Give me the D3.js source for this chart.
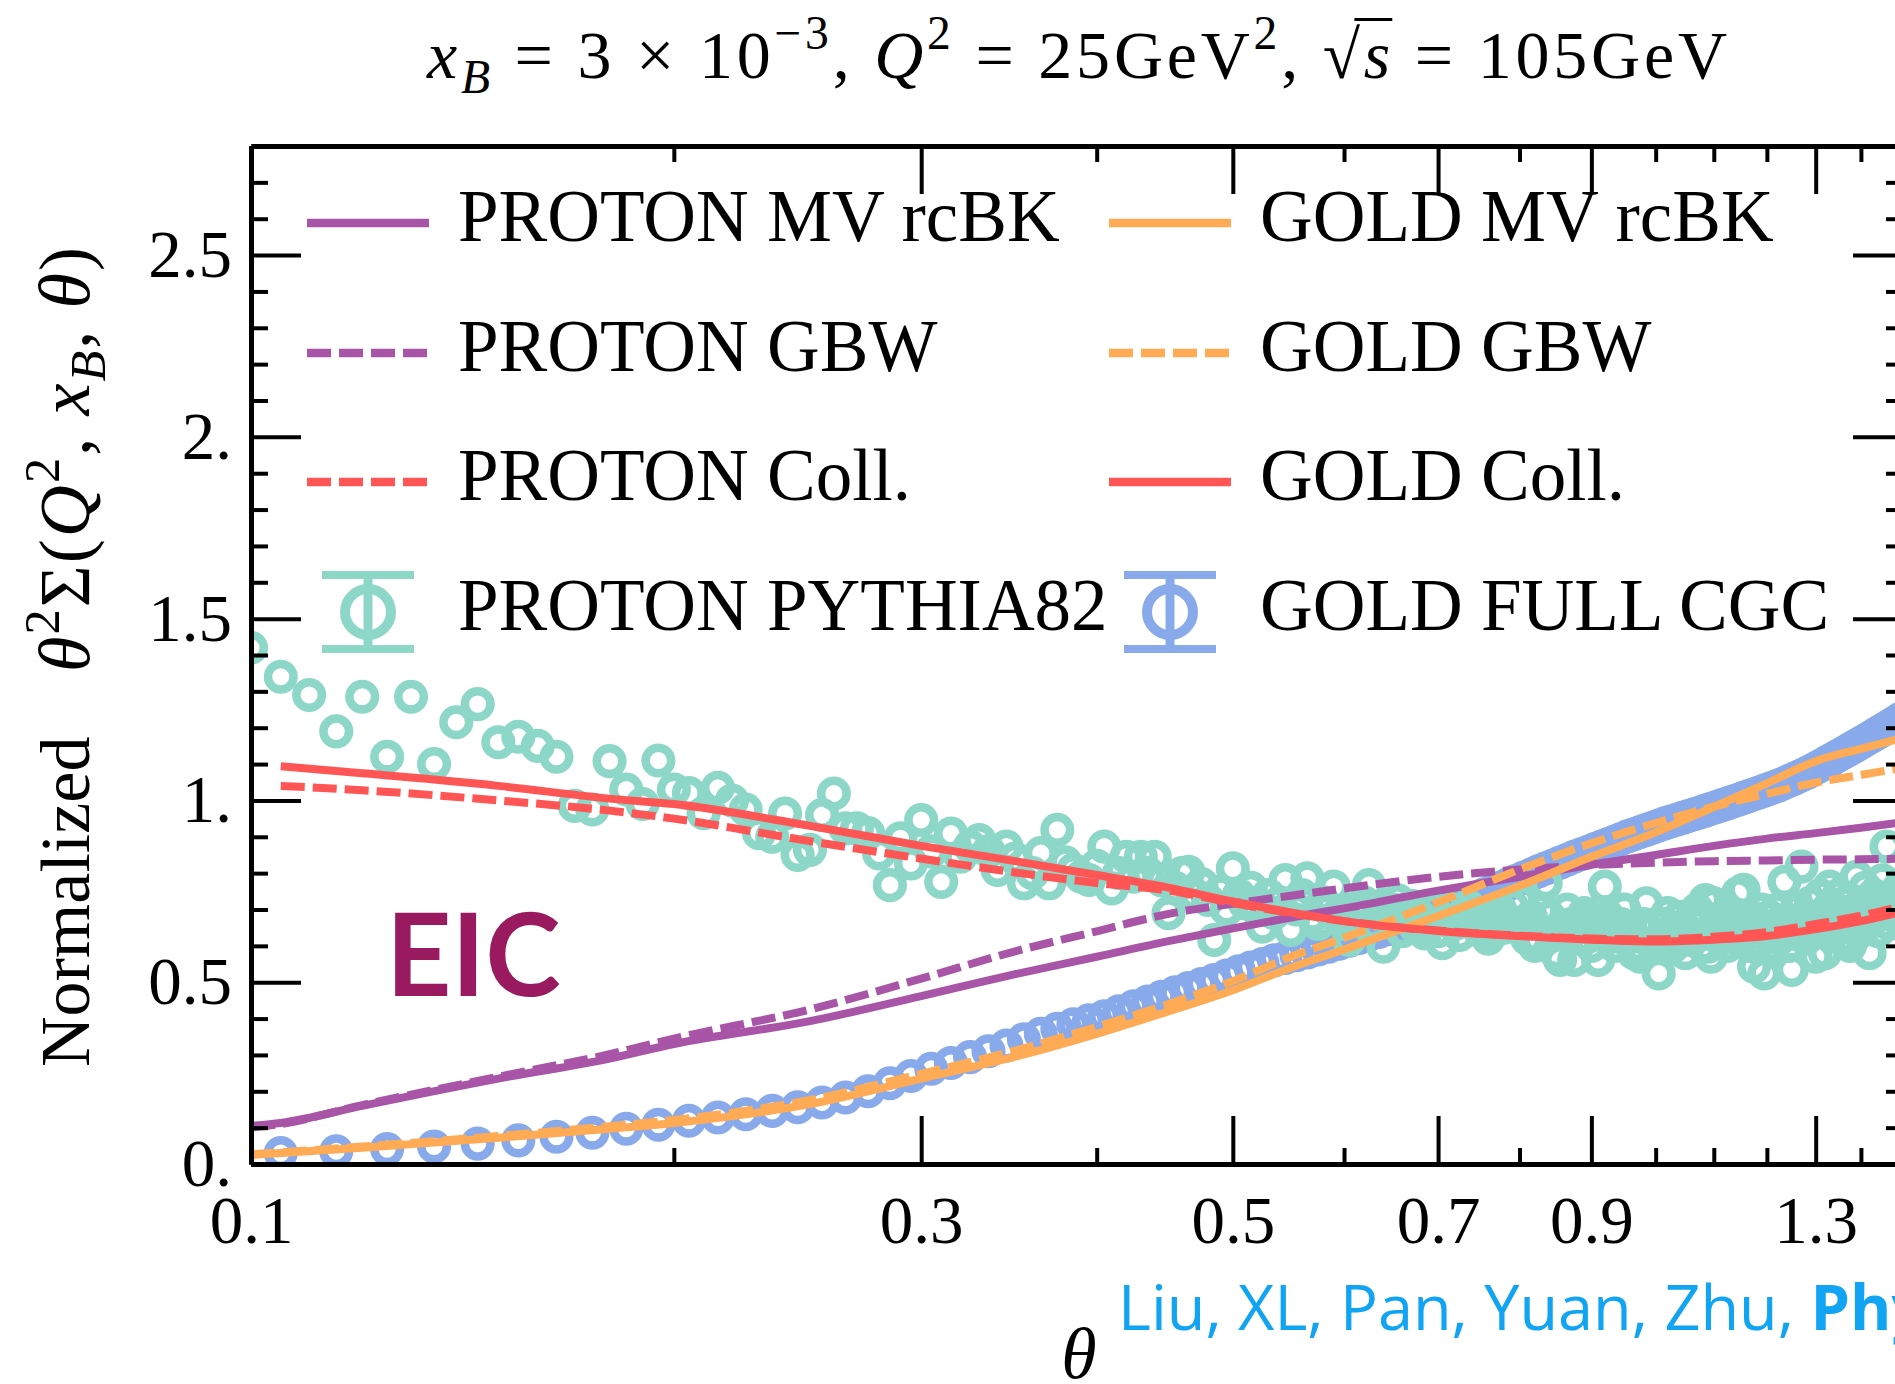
<!DOCTYPE html>
<html>
<head>
<meta charset="utf-8">
<script src="https://cdn.jsdelivr.net/npm/d3@7"></script>
<style>
  body { margin: 0; background: #fff; }
  svg { display: block; }
  text { font-family: "Liberation Serif", "DejaVu Serif", serif; }
</style>
</head>
<body>
<svg width="1895" height="1384"></svg>
<script>
// theta grid shared by the model curves
var thetaGrid = [0.1, 0.105, 0.12, 0.15, 0.18, 0.2, 0.25, 0.3, 0.35, 0.4, 0.45, 0.5, 0.55, 0.6, 0.7, 0.8, 0.9, 1.0, 1.1, 1.2, 1.3, 1.4, 1.5];

var protonMvRcbk = [0.105, 0.113, 0.160, 0.235, 0.290, 0.330, 0.393, 0.462, 0.522, 0.570, 0.613, 0.648, 0.678, 0.703, 0.752, 0.790, 0.823, 0.850, 0.875, 0.895, 0.910, 0.925, 0.940];
var protonGbw    = [0.100, 0.110, 0.162, 0.240, 0.302, 0.345, 0.425, 0.510, 0.585, 0.640, 0.688, 0.716, 0.738, 0.758, 0.790, 0.810, 0.822, 0.829, 0.833, 0.835, 0.837, 0.838, 0.840];
var protonColl   = [null, 1.040, 1.028, 1.000, 0.972, 0.950, 0.888, 0.840, 0.802, 0.773, 0.752, 0.718, 0.690, 0.668, 0.642, 0.628, 0.620, 0.618, 0.625, 0.638, 0.660, 0.683, 0.710];
var goldMvRcbk   = [0.025, 0.030, 0.045, 0.072, 0.097, 0.113, 0.165, 0.235, 0.295, 0.358, 0.420, 0.478, 0.540, 0.590, 0.682, 0.765, 0.845, 0.912, 0.982, 1.047, 1.108, 1.142, 1.172];
var goldGbw      = [0.027, 0.032, 0.048, 0.077, 0.104, 0.121, 0.176, 0.248, 0.312, 0.377, 0.440, 0.503, 0.570, 0.622, 0.720, 0.810, 0.882, 0.938, 0.983, 1.018, 1.049, 1.070, 1.090];
var goldColl     = [null, 1.094, 1.075, 1.040, 1.005, 0.990, 0.930, 0.875, 0.833, 0.795, 0.760, 0.722, 0.692, 0.668, 0.641, 0.627, 0.617, 0.612, 0.617, 0.627, 0.646, 0.668, 0.695];

// PYTHIA 8.2 proton points, bins of 0.005 starting at theta = 0.1
var pythiaStart = 0.1, pythiaStep = 0.005;
var pythiaValues = [
  1.42, 1.34, 1.29, 1.19, 1.285, 1.12, 1.285, 1.10, 1.215, 1.265,
  1.16, 1.175, 1.15, 1.12, 0.985, 0.975, 1.108, 1.03, 0.99, 1.11,
  1.03, 1.02, 0.965, 1.035, 1.00, 0.975, 0.91, 0.90, 0.964, 0.85,
  0.864, 0.96, 1.019, 0.923, 0.923, 0.91, 0.854, 0.767, 0.896, 0.827,
  0.946, 0.86, 0.776, 0.909, 0.845, 0.873, 0.891, 0.86, 0.809, 0.873,
  0.84, 0.772, 0.80, 0.855, 0.772, 0.919, 0.83, 0.809, 0.79, 0.781,
  0.82, 0.873, 0.758, 0.80, 0.845, 0.79, 0.845, 0.80, 0.845, 0.78,
  0.69, 0.76, 0.80, 0.804, 0.74, 0.77, 0.726, 0.616, 0.75, 0.70,
  0.813, 0.74, 0.717, 0.76, 0.70, 0.653, 0.74, 0.69, 0.72, 0.781,
  0.644, 0.70, 0.74, 0.786, 0.68, 0.66, 0.72, 0.70, 0.763, 0.69,
  0.66, 0.616, 0.70, 0.68, 0.72, 0.767, 0.66, 0.70, 0.598, 0.68,
  0.70, 0.726, 0.64, 0.69, 0.71, 0.65, 0.68, 0.634, 0.66, 0.70,
  0.64, 0.607, 0.67, 0.70, 0.66, 0.63, 0.68, 0.71, 0.69, 0.66,
  0.64, 0.67, 0.62, 0.634, 0.68, 0.70, 0.65, 0.67, 0.71, 0.66,
  0.726, 0.66, 0.62, 0.68, 0.60, 0.616, 0.70, 0.772, 0.68, 0.63,
  0.58, 0.561, 0.64, 0.70, 0.66, 0.561, 0.62, 0.66, 0.69, 0.67,
  0.60, 0.64, 0.561, 0.66, 0.763, 0.68, 0.64, 0.60, 0.625, 0.66,
  0.70, 0.62, 0.64, 0.58, 0.60, 0.57, 0.66, 0.717, 0.64, 0.60,
  0.66, 0.524, 0.62, 0.66, 0.69, 0.64, 0.60, 0.65, 0.68, 0.62,
  0.58, 0.64, 0.616, 0.66, 0.70, 0.63, 0.60, 0.726, 0.598, 0.57,
  0.717, 0.66, 0.62, 0.68, 0.64, 0.60, 0.69, 0.65, 0.62, 0.745,
  0.66, 0.754, 0.63, 0.60, 0.68, 0.543, 0.598, 0.66, 0.70, 0.524,
  0.63, 0.68, 0.60, 0.65, 0.70, 0.62, 0.67, 0.776, 0.64, 0.60,
  0.534, 0.66, 0.70, 0.63, 0.818, 0.68, 0.62, 0.66, 0.72, 0.64,
  0.57, 0.68, 0.74, 0.66, 0.58, 0.70, 0.763, 0.66, 0.64, 0.70,
  0.74, 0.62, 0.68, 0.72, 0.65, 0.60, 0.616, 0.70, 0.79, 0.68,
  0.64, 0.72, 0.76, 0.66, 0.58, 0.70, 0.74, 0.68, 0.64, 0.72,
  0.78, 0.70, 0.873, 0.66, 0.70, 0.74, 0.68, 0.72, 0.76, 0.70
];

// full CGC gold points, bins of 0.01 centred from theta = 0.105
var cgcStart = 0.105, cgcStep = 0.01;
var cgcValues = [
  0.030, 0.035, 0.041, 0.048, 0.056, 0.065, 0.075, 0.086, 0.097, 0.108,
  0.119, 0.128, 0.137, 0.146, 0.156, 0.169, 0.183, 0.200, 0.222, 0.242,
  0.262, 0.278, 0.294, 0.310, 0.326, 0.343, 0.358, 0.372, 0.384, 0.395,
  0.406, 0.420, 0.434, 0.447, 0.460, 0.472, 0.484, 0.495, 0.506, 0.518,
  0.530, 0.540, 0.550, 0.560, 0.567, 0.574, 0.582, 0.590, 0.598, 0.606,
  0.614, 0.622, 0.630, 0.638, 0.646, 0.654, 0.662, 0.670, 0.679, 0.688,
  0.697, 0.706, 0.715, 0.724, 0.733, 0.742, 0.751, 0.760, 0.769, 0.778,
  0.787, 0.796, 0.805, 0.813, 0.821, 0.829, 0.837, 0.845, 0.852, 0.859,
  0.866, 0.873, 0.880, 0.887, 0.894, 0.901, 0.907, 0.913, 0.919, 0.925,
  0.931, 0.937, 0.942, 0.947, 0.952, 0.957, 0.962, 0.967, 0.972, 0.977,
  0.982, 0.987, 0.992, 0.997, 1.002, 1.007, 1.012, 1.017, 1.022, 1.027,
  1.032, 1.037, 1.042, 1.048, 1.054, 1.060, 1.066, 1.072, 1.078, 1.085,
  1.092, 1.099, 1.106, 1.113, 1.120, 1.127, 1.134, 1.141, 1.148, 1.155,
  1.162, 1.169, 1.176, 1.183, 1.190, 1.197, 1.204, 1.211, 1.218, 1.225
];

var xMajorTicks = [0.1, 0.3, 0.5, 0.7, 0.9, 1.3];
var xMinorTicks = [0.2, 0.4, 0.6, 0.8, 1.0, 1.1, 1.2, 1.4];
var xTickLabels = ["0.1", "0.3", "0.5", "0.7", "0.9", "1.3"];
var yMajorTicks = [0, 0.5, 1, 1.5, 2, 2.5];
var yTickLabels = ["0.", "0.5", "1.", "1.5", "2.", "2.5"];

var purple = "#a855a8", red = "#ff5555", orange = "#ffaa55",
    teal = "#8cd7c8", blue = "#88aaea";

var svg = d3.select("svg");
var plot = {left: 251, right: 1903, top: 146, bottom: 1164};

var x = d3.scaleLog().domain([0.1, 1.5]).range([plot.left, plot.right]),
    y = d3.scaleLinear().domain([0, 2.8]).range([plot.bottom, plot.top]);

svg.append("defs").append("clipPath")
   .attr("id", "clip")
   .append("rect")
   .attr("x", plot.left)
   .attr("y", plot.top)
   .attr("width", plot.right - plot.left)
   .attr("height", plot.bottom - plot.top);

var data = svg.append("g").attr("clip-path", "url(#clip)");

// markers
var cgcPts = cgcValues.map(function(v, i) { return {t: cgcStart + i * cgcStep, v: v}; });
var pythiaPts = pythiaValues.map(function(v, i) { return {t: pythiaStart + i * pythiaStep, v: v}; });

data.append("g").selectAll("circle")
    .data(cgcPts)
    .enter().append("circle")
    .attr("cx", function(d) { return x(d.t); })
    .attr("cy", function(d) { return y(d.v); })
    .attr("r", 12.8)
    .attr("fill", "none")
    .attr("stroke", blue)
    .attr("stroke-width", 8.5);

data.append("g").selectAll("circle")
    .data(pythiaPts)
    .enter().append("circle")
    .attr("cx", function(d) { return x(d.t); })
    .attr("cy", function(d) { return y(d.v); })
    .attr("r", 12.8)
    .attr("fill", "none")
    .attr("stroke", teal)
    .attr("stroke-width", 8.5);

// model curves
var line = d3.line()
    .defined(function(d) { return d.v != null; })
    .x(function(d) { return x(d.t); })
    .y(function(d) { return y(d.v); })
    .curve(d3.curveMonotoneX);

var curves = [
  {values: protonMvRcbk, color: purple, dash: null},
  {values: protonGbw,    color: purple, dash: "24,8"},
  {values: protonColl,   color: red,    dash: "24,8"},
  {values: goldMvRcbk,   color: orange, dash: null},
  {values: goldGbw,      color: orange, dash: "24,8"},
  {values: goldColl,     color: red,    dash: null}
];

curves.forEach(function(c) {
  data.append("path")
      .datum(thetaGrid.map(function(t, i) { return {t: t, v: c.values[i]}; }))
      .attr("d", line)
      .attr("fill", "none")
      .attr("stroke", c.color)
      .attr("stroke-width", 8)
      .attr("stroke-dasharray", c.dash);
});

// axes
function styleAxis(g, labels) {
  g.select(".domain").attr("stroke-width", 5);
  g.selectAll(".tick line").attr("stroke-width", 4);
  g.attr("font-family", null).attr("font-size", 67);
  if (!labels) g.selectAll(".tick text").remove();
  g.selectAll(".tick text").attr("fill", "#000");
}

var xBottom = svg.append("g")
    .attr("transform", "translate(0," + plot.bottom + ")")
    .call(d3.axisBottom(x).tickValues(xMajorTicks).tickSize(-48).tickSizeOuter(0).tickPadding(0)
      .tickFormat(function(d, i) { return xTickLabels[i]; }));
styleAxis(xBottom, true);
xBottom.selectAll(".tick text").attr("y", 79).attr("dy", null);

var xBottomMinor = svg.append("g")
    .attr("transform", "translate(0," + plot.bottom + ")")
    .call(d3.axisBottom(x).tickValues(xMinorTicks).tickSize(-16).tickSizeOuter(0));
styleAxis(xBottomMinor, false);

var xTop = svg.append("g")
    .attr("transform", "translate(0," + plot.top + ")")
    .call(d3.axisTop(x).tickValues(xMajorTicks).tickSize(-48).tickSizeOuter(0));
styleAxis(xTop, false);

var xTopMinor = svg.append("g")
    .attr("transform", "translate(0," + plot.top + ")")
    .call(d3.axisTop(x).tickValues(xMinorTicks).tickSize(-16).tickSizeOuter(0));
styleAxis(xTopMinor, false);

var yMinorTicks = d3.range(1, 28).map(function(i) { return i / 10; })
    .filter(function(d) { return Math.round(d * 10) % 5 !== 0; });

var yLeft = svg.append("g")
    .attr("transform", "translate(" + plot.left + ",0)")
    .call(d3.axisLeft(y).tickValues(yMajorTicks).tickSize(-50).tickSizeOuter(0).tickPadding(19)
      .tickFormat(function(d, i) { return yTickLabels[i]; }));
styleAxis(yLeft, true);

var yLeftMinor = svg.append("g")
    .attr("transform", "translate(" + plot.left + ",0)")
    .call(d3.axisLeft(y).tickValues(yMinorTicks).tickSize(-17).tickSizeOuter(0));
styleAxis(yLeftMinor, false);

var yRight = svg.append("g")
    .attr("transform", "translate(" + plot.right + ",0)")
    .call(d3.axisRight(y).tickValues(yMajorTicks).tickSize(-50).tickSizeOuter(0));
styleAxis(yRight, false);

var yRightMinor = svg.append("g")
    .attr("transform", "translate(" + plot.right + ",0)")
    .call(d3.axisRight(y).tickValues(yMinorTicks).tickSize(-17).tickSizeOuter(0));
styleAxis(yRightMinor, false);

// legend
var legendLabels = ["PROTON MV rcBK", "PROTON GBW", "PROTON Coll.", "PROTON PYTHIA82",
                    "GOLD MV rcBK", "GOLD GBW", "GOLD Coll.", "GOLD FULL CGC"];
var legendStyle = [
  {color: purple, dash: null}, {color: purple, dash: "24,8"}, {color: red, dash: "24,8"}, {color: teal, marker: true},
  {color: orange, dash: null}, {color: orange, dash: "24,8"}, {color: red, dash: null}, {color: blue, marker: true}
];
var legendCols = [307, 1109], legendRows = [223, 353, 482, 612];

legendLabels.forEach(function(label, i) {
  var lx = legendCols[Math.floor(i / 4)], ly = legendRows[i % 4], s = legendStyle[i];
  var g = svg.append("g");
  if (s.marker) {
    var cx = lx + 61;
    g.append("line").attr("x1", cx).attr("x2", cx).attr("y1", ly - 37).attr("y2", ly + 37)
     .attr("stroke", s.color).attr("stroke-width", 9);
    [-37, 37].forEach(function(dy) {
      g.append("line").attr("x1", cx - 46).attr("x2", cx + 46).attr("y1", ly + dy).attr("y2", ly + dy)
       .attr("stroke", s.color).attr("stroke-width", 8);
    });
    g.append("circle").attr("cx", cx).attr("cy", ly).attr("r", 23)
     .attr("fill", "none").attr("stroke", s.color).attr("stroke-width", 10);
  } else {
    g.append("line").attr("x1", lx).attr("x2", lx + 122).attr("y1", ly).attr("y2", ly)
     .attr("stroke", s.color).attr("stroke-width", 8.5).attr("stroke-dasharray", s.dash);
  }
  g.append("text").attr("x", lx + 151).attr("y", ly + 18)
   .attr("font-size", 73).text(label);
});

// EIC tag
svg.append("text")
   .attr("x", 386).attr("y", 996)
   .style("font-family", "Lato, 'Open Sans', sans-serif")
   .attr("font-weight", 700)
   .attr("font-size", 114)
   .attr("fill", "#991a5e")
   .text("EIC");

// math helper: parts with italic / sup / sub
function mathText(sel, parts, fs) {
  var shift = 0;
  parts.forEach(function(p) {
    var target = p.sup ? -0.42 * fs : p.sub ? 0.22 * fs : 0;
    var ts = sel.append("tspan").text(p.t);
    if (target !== shift) ts.attr("dy", target - shift);
    shift = target;
    if (p.i) ts.attr("font-style", "italic");
    if (p.sup || p.sub) ts.attr("font-size", fs * 0.7);
  });
}

// title
var titleFs = 68;
var title = svg.append("text")
   .attr("x", 1077).attr("y", 78)
   .attr("text-anchor", "middle")
   .attr("font-size", titleFs)
   .attr("textLength", 1300)
   .attr("lengthAdjust", "spacing");
mathText(title, [
  {t: "x", i: true}, {t: "B", i: true, sub: true}, {t: " = 3 × 10"}, {t: "−3", sup: true},
  {t: ", "}, {t: "Q", i: true}, {t: "2", sup: true}, {t: " = 25GeV"}, {t: "2", sup: true},
  {t: ", √"}, {t: "s", i: true}, {t: " = 105GeV"}
], titleFs);

// bar over the s of the square root
var tnode = title.node(), full = tnode.textContent;
var iRoot = full.indexOf("√"), iS = iRoot + 1;
var eRoot = tnode.getExtentOfChar(iRoot), eS = tnode.getExtentOfChar(iS);
svg.append("line")
   .attr("x1", eRoot.x + eRoot.width * 0.85).attr("x2", eS.x + eS.width + 2)
   .attr("y1", 78 - 0.86 * titleFs).attr("y2", 78 - 0.86 * titleFs)
   .attr("stroke", "#000").attr("stroke-width", 3);

// y label
var yLab = svg.append("g").attr("transform", "translate(89,0) rotate(-90)");
yLab.append("text").attr("x", -1067).attr("y", 0).attr("font-size", 70).text("Normalized");
var yMath = yLab.append("text").attr("x", -672).attr("y", 0).attr("font-size", 72)
   .attr("textLength", 425).attr("lengthAdjust", "spacing");
mathText(yMath, [
  {t: "θ", i: true}, {t: "2", sup: true}, {t: "Σ("}, {t: "Q", i: true}, {t: "2", sup: true},
  {t: ", "}, {t: "x", i: true}, {t: "B", i: true, sub: true}, {t: ", "}, {t: "θ", i: true}, {t: ")"}
], 72);

// x label
svg.append("text")
   .attr("x", 1079).attr("y", 1378)
   .attr("text-anchor", "middle")
   .attr("font-size", 72)
   .attr("font-style", "italic")
   .text("θ");

// reference line
var cite = svg.append("text")
   .attr("x", 1118).attr("y", 1330)
   .style("font-family", "'Open Sans', sans-serif")
   .attr("font-size", 63)
   .attr("fill", "#10a4f2");
cite.append("tspan").text("Liu, XL, Pan, Yuan, Zhu, ");
cite.append("tspan").attr("font-weight", 700).text("Phys. Rev. Lett.");
</script>
</body>
</html>
